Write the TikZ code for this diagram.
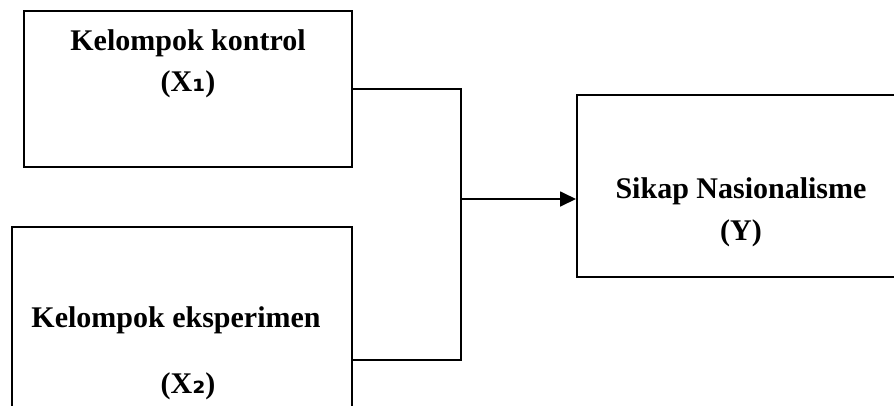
\documentclass[tikz,border=0pt]{standalone}
\usepackage{fontspec}
\setmainfont{Liberation Serif}
\newfontfamily\subfont{DejaVu Sans}
\usetikzlibrary{arrows.meta}
\tikzset{
  box/.style={draw=black, line width=2pt, rectangle, inner sep=0pt},
  lbl/.style={anchor=base, inner sep=0pt, font=\fontsize{30}{36}\selectfont\bfseries},
  conn/.style={draw=black, line width=1.8pt},
}
\begin{document}
\begin{tikzpicture}[x=1pt,y=-1pt]
\useasboundingbox (0,0) rectangle (894,405);
\clip (0,0) rectangle (894,405);
% boxes
\node[box, minimum width=328pt, minimum height=156pt] (b1) at (188,89) {};
\node[box, minimum width=340pt, minimum height=213pt] (b2) at (182,333.5) {};
\node[box, minimum width=360pt, minimum height=182pt] (y) at (757,186) {};
% labels
\node[lbl] (t1) at (188,50) {Kelompok kontrol};
\node[lbl] (t1s) at (188,91) {(X{\subfont\bfseries ₁})};
\node[lbl] (t2) at (176,327) {Kelompok eksperimen};
\node[lbl] (t2s) at (188,393) {(X{\subfont\bfseries ₂})};
\node[lbl] (t3) at (741,198) {Sikap Nasionalisme};
\node[lbl] (t3s) at (741,240) {(Y)};
% connectors
\coordinate (top) at (461,89);
\coordinate (bot) at (461,360);
\coordinate (j) at (461,199);
\draw[conn] (b1.east) -- (top) -- (bot) -- (bot -| b2.east);
\draw[conn, -{Triangle[length=16pt,width=15pt]}] (j) -- (j -| y.west);
\end{tikzpicture}
\end{document}
